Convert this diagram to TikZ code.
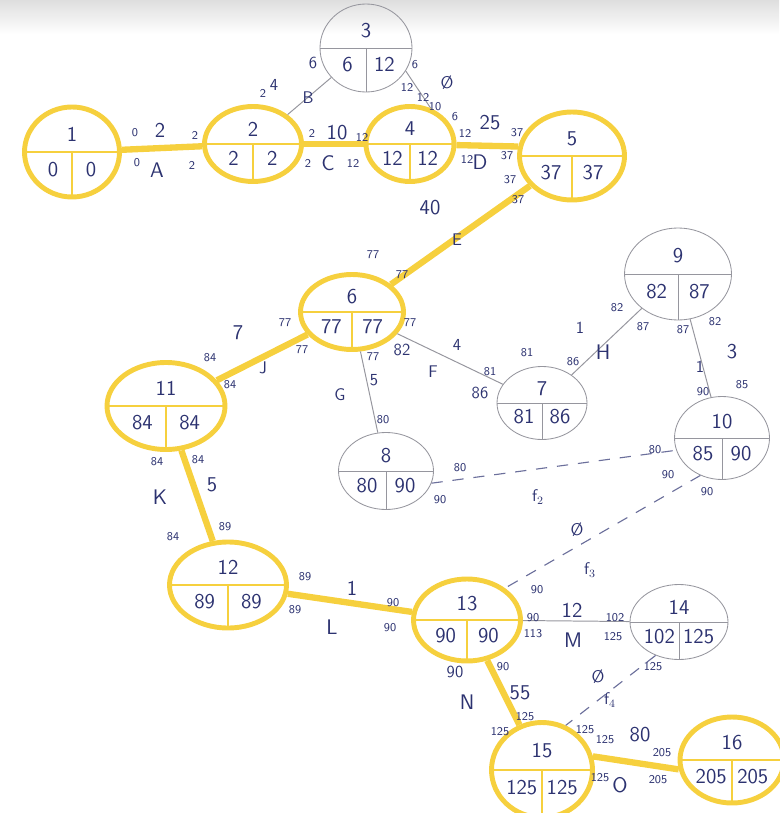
\documentclass[tikz,border=0pt]{standalone}
\usetikzlibrary{shapes.geometric}
\definecolor{marker}{RGB}{246,208,62}
\definecolor{ink}{RGB}{44,50,112}
\definecolor{pencil}{RGB}{150,150,158}
\tikzset{
  crit/.style={ellipse, draw=marker, line width=3.5pt, inner sep=0pt},
  free/.style={ellipse, draw=pencil, line width=0.6pt, inner sep=0pt},
  critline/.style={marker, line width=4.5pt},
  freeline/.style={pencil, line width=0.7pt},
  dummy/.style={ink!70, line width=0.8pt, dash pattern=on 8pt off 7pt},
  numbig/.style={text=ink, font=\sffamily\fontsize{15}{15}\selectfont, inner sep=0pt},
  nummid/.style={text=ink, font=\sffamily\fontsize{12}{12}\selectfont, inner sep=0pt},
  numsml/.style={text=ink, font=\sffamily\fontsize{8.5}{8.5}\selectfont, inner sep=0pt},
}
\begin{document}
\begin{tikzpicture}[x=0.025cm,y=-0.025cm]
\useasboundingbox (0,0) rectangle (779,813);
\shade[top color=black!13, bottom color=white] (0,0) rectangle (779,34);

% events on the critical path
\foreach \n/\x/\y/\w/\h/\a/\b in {1/72/152/95/90/0/0, 2/253/144/97/75/2/2,
  4/410/144/88/75/12/12, 5/572/156/105/88/37/37, 6/352/312/103/75/77/77,
  11/166/406/118/87/84/84, 12/228/585/117/86/89/89, 13/467/620/107/82/90/90,
  15/542/770/101/95/125/125, 16/732/760/104/86/205/205}
{
  \node[crit, minimum width=0.025cm*\w, minimum height=0.025cm*\h] (n\n) at (\x,\y) {};
  \draw[marker, line width=1.5pt] (n\n.west) -- (n\n.east) (n\n.center) -- (n\n.south);
  \node[numbig] (top\n) at (\x,{\y-0.2*\h}) {\n};
  \node[numbig] (es\n) at ({\x-0.2*\w},{\y+0.19*\h}) {\a};
  \node[numbig] (ls\n) at ({\x+0.2*\w},{\y+0.19*\h}) {\b};
}
% other events
\foreach \n/\x/\y/\w/\h/\a/\b in {3/366/48/92/88/6/12, 7/542/403/90/73/81/86,
  8/386/471/95/77/80/90, 9/678/274/107/92/82/87, 10/722/438/95/83/85/90,
  14/679/622/98/75/102/125}
{
  \node[free, minimum width=0.025cm*\w, minimum height=0.025cm*\h] (n\n) at (\x,\y) {};
  \draw[pencil, line width=0.6pt] (n\n.west) -- (n\n.east) (n\n.center) -- (n\n.south);
  \node[numbig] (top\n) at (\x,{\y-0.2*\h}) {\n};
  \node[numbig] (es\n) at ({\x-0.2*\w},{\y+0.19*\h}) {\a};
  \node[numbig] (ls\n) at ({\x+0.2*\w},{\y+0.19*\h}) {\b};
}

% activities
\draw[critline] (n1) -- (n2);
\draw[critline] (n2) -- (n4);
\draw[critline] (n4) -- (n5.170);
\draw[critline] (n5) -- (n6);
\draw[critline] (n6) -- (n11);
\draw[critline] (n11) -- (n12);
\draw[critline] (n12) -- (n13);
\draw[critline] (n13) -- (n15);
\draw[critline] (n15.15) -- (n16.190);
\draw[freeline] (n2) -- (n3);
\draw[freeline] (n3.-30) -- (n4.60);
\draw[freeline] (n6) -- (n8);
\draw[freeline] (n6) -- (n7);
\draw[freeline] (n7) -- (n9);
\draw[freeline] (n9) -- (n10);
\draw[freeline] (n13) -- (n14);
\draw[dummy] (n8.-15) -- (n10.195);
\draw[dummy] (n10.240) -- (n13.40);
\draw[dummy] (n14.235) -- (n15.62);

% times and names
\foreach \x/\y/\t [count=\i] in {160/130/2, 157/170/A, 337/133/10, 328/163/C,
  490/123/25, 480/162/D, 430/208/40, 238/333/7, 160/497/K, 212/485/5,
  603/352/H, 732/352/3, 352/588/1, 332/627/L, 572/610/12, 573/640/M,
  467/702/N, 520/693/55, 640/735/80, 620/785/O}
  \node[numbig] (lg\i) at (\x,\y) {\t};
\foreach \x/\y/\t [count=\i] in {274/85/4, 313/63/6, 308/98/B, 447/83/\O,
  457/240/E, 263/368/J, 374/380/5, 340/395/G, 433/372/F, 457/345/4,
  402/350/82, 580/328/1, 700/367/1, 480/393/86, 538/497/f$_2$, 577/530/\O,
  590/570/f$_3$, 598/677/\O, 610/700/f$_4$, 455/672/90}
  \node[nummid] (md\i) at (\x,\y) {\t};
\foreach \x/\y/\t [count=\i] in {135/133/0, 137/163/0, 195/135/2, 192/165/2,
  263/93/2, 312/133/2, 362/137/12, 308/163/2, 353/163/12,
  415/65/6, 407/87/12, 423/97/12, 435/107/10, 455/117/6,
  465/133/12, 517/133/37, 467/159/12, 507/156/37, 510/180/37, 518/200/37,
  373/255/77, 402/275/77, 285/323/77, 302/350/77, 210/358/84, 230/385/84,
  410/323/77, 373/357/77, 383/420/80,
  157/462/84, 198/460/84, 173/537/84, 225/527/89,
  617/308/82, 643/327/87, 527/353/81, 573/362/86, 490/372/81,
  683/330/87, 715/322/82, 703/392/90, 742/385/85,
  655/450/80, 668/475/90, 707/492/90, 460/468/80, 440/500/90,
  305/577/89, 393/603/90, 295/610/89, 390/628/90, 537/590/90,
  533/618/90, 533/634/113, 503/667/90, 615/618/102, 613/637/125,
  653/667/125, 525/717/125, 500/732/125, 585/730/125, 605/740/125,
  662/753/205, 600/778/125, 658/780/205}
  \node[numsml] (sm\i) at (\x,\y) {\t};
\end{tikzpicture}
\end{document}
